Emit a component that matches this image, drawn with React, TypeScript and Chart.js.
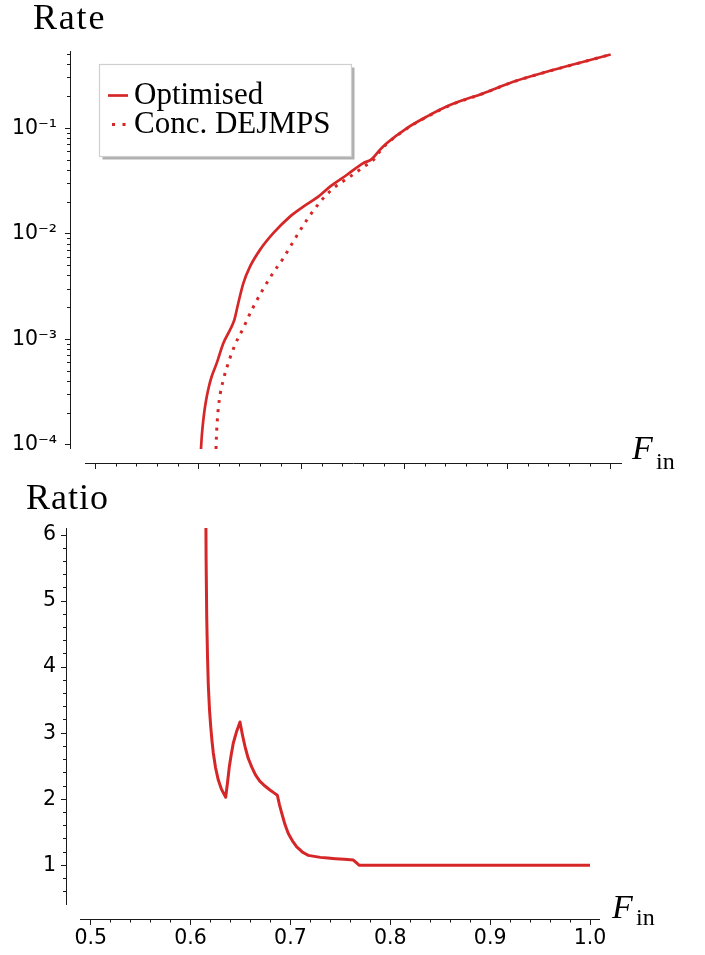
import React, { useEffect, useRef } from 'react';
import { Chart, registerables } from 'chart.js';

Chart.register(...registerables);

// ---------- data ----------
const fOptimised = [0.6022, 0.6031, 0.6045, 0.606, 0.6078, 0.61, 0.6126, 0.6175, 0.6239, 0.6304, 0.6346, 0.6384, 0.6433, 0.6498, 0.6595, 0.6724, 0.6886, 0.7016, 0.7161, 0.7275, 0.7437, 0.7598, 0.768, 0.775, 0.7825, 0.8019, 0.8214, 0.844, 0.876, 0.9054, 0.9379, 0.9701, 1.0];
const rateOptimised = [9.16e-5, 1.25e-4, 1.73e-4, 2.25e-4, 2.87e-4, 3.6e-4, 4.45e-4, 5.96e-4, 9.2e-4, 1.23e-3, 1.53e-3, 2.2e-3, 3.4e-3, 4.89e-3, 7.05e-3, 1.014e-2, 1.456e-2, 1.81e-2, 2.25e-2, 2.8e-2, 3.61e-2, 4.67e-2, 5.1e-2, 6.1e-2, 7.2e-2, 0.1, 0.129, 0.166, 0.214, 0.276, 0.343, 0.418, 0.5];

const fConcDejmps = [0.6168, 0.6172, 0.6181, 0.62, 0.6239, 0.6287, 0.6352, 0.6433, 0.6515, 0.6612, 0.6709, 0.6821, 0.6918, 0.7049, 0.7178, 0.7307, 0.7469, 0.7615, 0.7695, 0.775, 0.7825, 0.8019, 0.8214, 0.844, 0.876, 0.9054, 0.9379, 0.9701, 1.0];
const rateConcDejmps = [9.16e-5, 1.2e-4, 1.73e-4, 2.67e-4, 4.14e-4, 5.96e-4, 8.87e-4, 1.28e-3, 1.9e-3, 2.84e-3, 4.08e-3, 5.87e-3, 8.44e-3, 1.35e-2, 2.0e-2, 2.7e-2, 3.48e-2, 4.4e-2, 5.01e-2, 5.9e-2, 7.1e-2, 0.099, 0.128, 0.165, 0.213, 0.275, 0.342, 0.417, 0.5];

const fRatio = [0.6148, 0.6152, 0.6156, 0.6162, 0.617, 0.6178, 0.619, 0.6202, 0.6215, 0.6228, 0.625, 0.6278, 0.631, 0.6352, 0.637, 0.6388, 0.6408, 0.6428, 0.646, 0.6495, 0.652, 0.6545, 0.6575, 0.6612, 0.665, 0.6695, 0.6745, 0.6795, 0.6869, 0.689, 0.6913, 0.6945, 0.6979, 0.702, 0.7063, 0.712, 0.7179, 0.73, 0.745, 0.763, 0.769, 1.0];
const ratioValues = [7.8, 6.6, 5.6, 4.75, 4.15, 3.72, 3.35, 3.1, 2.88, 2.7, 2.48, 2.29, 2.15, 2.03, 2.25, 2.49, 2.68, 2.85, 3.02, 3.17, 2.97, 2.8, 2.63, 2.49, 2.37, 2.27, 2.2, 2.14, 2.06, 1.92, 1.79, 1.62, 1.48, 1.37, 1.28, 1.2, 1.15, 1.12, 1.1, 1.08, 1.0, 1.0];

// ---------- ticks ----------
const xMajorTicks = [0.5, 0.6, 0.7, 0.8, 0.9, 1.0];
const xTickLabels = ['0.5', '0.6', '0.7', '0.8', '0.9', '1.0'];
const rateMajorTicks = [1e-4, 1e-3, 1e-2, 1e-1];
const rateTickLabels = ['10\u207B\u2074', '10\u207B\u00B3', '10\u207B\u00B2', '10\u207B\u00B9'];
const ratioMajorTicks = [1, 2, 3, 4, 5, 6];
const ratioTickLabels = ['1', '2', '3', '4', '5', '6'];

// axis ranges
const TOP_X_MIN = 0.4896, TOP_X_MAX = 1.011;
const RATE_MIN = 9.16e-5, RATE_MAX = 0.5395;
const BOT_X_MIN = 0.4893, BOT_X_MAX = 1.01;
const RATIO_MIN = 0.399, RATIO_MAX = 6.106;

const RED = '#d62728';
const INK = '#1a1a1a';

function xTickValues() {
  const out: number[] = [];
  for (let i = 0; i < xMajorTicks.length; i++) {
    out.push(xMajorTicks[i]);
    if (i < xMajorTicks.length - 1) {
      const step = (xMajorTicks[i + 1] - xMajorTicks[i]) / 5;
      for (let k = 1; k < 5; k++) out.push(+(xMajorTicks[i] + k * step).toFixed(4));
    }
  }
  return out;
}
function rateTickValues() {
  const out: number[] = [];
  rateMajorTicks.forEach((d) => {
    out.push(d);
    for (let m = 2; m <= 9; m++) if (d * m <= RATE_MAX) out.push(d * m);
  });
  return out;
}
function ratioTickValues() {
  const out: number[] = [0.6, 0.8];
  for (let i = 0; i < ratioMajorTicks.length; i++) {
    out.push(ratioMajorTicks[i]);
    if (i < ratioMajorTicks.length - 1) {
      for (let k = 1; k < 5; k++) out.push(+(ratioMajorTicks[i] + k * 0.2).toFixed(3));
    }
  }
  return out;
}

const findMajor = (v: number, majors: number[], rel = false) =>
  majors.findIndex((m) => (rel ? Math.abs(v / m - 1) < 1e-6 : Math.abs(v - m) < 1e-6));

const zeroPad = (s: any) => {
  s.paddingLeft = 0; s.paddingRight = 0; s.paddingTop = 0; s.paddingBottom = 0;
};

// draws the offset axis lines (spines) next to the library's scales
const spinesPlugin = {
  id: 'spines',
  afterDraw(chart: any, _args: any, opts: any) {
    const { ctx, chartArea: a } = chart;
    ctx.save();
    ctx.strokeStyle = INK;
    ctx.lineWidth = 1;
    const yx = Math.round(a.left - opts.yGap) + 0.5;
    ctx.beginPath();
    ctx.moveTo(yx, a.top);
    ctx.lineTo(yx, a.bottom);
    ctx.stroke();
    const xy = Math.round(a.bottom + opts.xGap) + 0.5;
    ctx.beginPath();
    ctx.moveTo(a.left, xy);
    ctx.lineTo(a.right, xy);
    ctx.stroke();
    ctx.restore();
  },
};

const tickFont = { family: 'DejaVu Sans', size: 20.5 };

export default function App() {
  const topRef = useRef<HTMLCanvasElement>(null);
  const botRef = useRef<HTMLCanvasElement>(null);

  useEffect(() => {
    const xTicks = xTickValues();
    const top = new Chart(topRef.current as HTMLCanvasElement, {
      type: 'line',
      data: {
        datasets: [
          {
            label: 'Optimised',
            data: fOptimised.map((x, i) => ({ x, y: rateOptimised[i] })),
            borderColor: RED,
            borderWidth: 2.7,
            pointRadius: 0,
            cubicInterpolationMode: 'monotone',
            fill: false,
          },
          {
            label: 'Conc. DEJMPS',
            data: fConcDejmps.map((x, i) => ({ x, y: rateConcDejmps[i] })),
            borderColor: RED,
            borderWidth: 3,
            borderDash: [3, 6.2],
            borderCapStyle: 'butt',
            pointRadius: 0,
            cubicInterpolationMode: 'monotone',
            fill: false,
          },
        ],
      },
      options: {
        animation: false,
        responsive: false,
        events: [],
        layout: { padding: { top: 51, right: 83, left: 0, bottom: 0 } },
        plugins: {
          legend: { display: false },
          tooltip: { enabled: false },
          spines: { xGap: 14, yGap: 15 },
        } as any,
        scales: {
          x: {
            type: 'linear',
            position: 'bottom',
            min: TOP_X_MIN,
            max: TOP_X_MAX,
            afterBuildTicks: (s: any) => { s.ticks = xTicks.map((value) => ({ value })); },
            afterFit: (s: any) => { s.height = 31; zeroPad(s); },
            border: { display: false },
            grid: {
              drawOnChartArea: false,
              drawTicks: true,
              tickLength: 20,
              tickColor: INK,
              tickWidth: 1,
              tickBorderDash: (c: any) => (findMajor(c.tick.value, xMajorTicks) >= 0 ? [0, 14, 6, 100] : [0, 14, 3.5, 100]),
            },
            ticks: { display: false, autoSkip: false },
          },
          y: {
            type: 'logarithmic',
            position: 'left',
            min: RATE_MIN,
            max: RATE_MAX,
            afterBuildTicks: (s: any) => { s.ticks = rateTickValues().map((value) => ({ value })); },
            afterFit: (s: any) => { s.width = 85; zeroPad(s); },
            border: { display: false },
            grid: {
              drawOnChartArea: false,
              drawTicks: true,
              tickLength: 20,
              tickColor: INK,
              tickWidth: 1,
              tickBorderDash: (c: any) => (findMajor(c.tick.value, rateMajorTicks, true) >= 0 ? [5, 100] : [0, 2, 3, 100]),
            },
            ticks: {
              autoSkip: false,
              padding: 8,
              color: '#000',
              font: tickFont,
              callback: (v: any) => {
                const i = findMajor(Number(v), rateMajorTicks, true);
                return i >= 0 ? rateTickLabels[i] : '';
              },
            },
          },
        },
      },
      plugins: [spinesPlugin],
    } as any);

    const bottom = new Chart(botRef.current as HTMLCanvasElement, {
      type: 'line',
      data: {
        datasets: [
          {
            label: 'Ratio',
            data: fRatio.map((x, i) => ({ x, y: ratioValues[i] })),
            borderColor: RED,
            borderWidth: 3,
            borderJoinStyle: 'round',
            pointRadius: 0,
            tension: 0.0001,
            clip: 0,
            fill: false,
          },
        ],
      },
      options: {
        animation: false,
        responsive: false,
        events: [],
        layout: { padding: { top: 48, right: 105, left: 0, bottom: 0 } },
        plugins: {
          legend: { display: false },
          tooltip: { enabled: false },
          spines: { xGap: 14, yGap: 14 },
        } as any,
        scales: {
          x: {
            type: 'linear',
            position: 'bottom',
            min: BOT_X_MIN,
            max: BOT_X_MAX,
            afterBuildTicks: (s: any) => { s.ticks = xTicks.map((value) => ({ value })); },
            afterFit: (s: any) => { s.height = 50; zeroPad(s); },
            border: { display: false },
            grid: {
              drawOnChartArea: false,
              drawTicks: true,
              tickLength: 20,
              tickColor: INK,
              tickWidth: 1,
              tickBorderDash: (c: any) => (findMajor(c.tick.value, xMajorTicks) >= 0 ? [0, 14, 6, 100] : [0, 14, 3.5, 100]),
            },
            ticks: {
              autoSkip: false,
              maxRotation: 0,
              padding: 1,
              color: '#000',
              font: tickFont,
              callback: (v: any) => {
                const i = findMajor(Number(v), xMajorTicks);
                return i >= 0 ? xTickLabels[i] : '';
              },
            },
          },
          y: {
            type: 'linear',
            position: 'left',
            min: RATIO_MIN,
            max: RATIO_MAX,
            afterBuildTicks: (s: any) => { s.ticks = ratioTickValues().map((value) => ({ value })); },
            afterFit: (s: any) => { s.width = 80; zeroPad(s); },
            border: { display: false },
            grid: {
              drawOnChartArea: false,
              drawTicks: true,
              tickLength: 19,
              tickColor: INK,
              tickWidth: 1,
              tickBorderDash: (c: any) => (findMajor(c.tick.value, ratioMajorTicks) >= 0 ? [5, 100] : [0, 2, 3, 100]),
            },
            ticks: {
              autoSkip: false,
              padding: 5,
              color: '#000',
              font: tickFont,
              callback: (v: any) => {
                const i = findMajor(Number(v), ratioMajorTicks);
                return i >= 0 ? ratioTickLabels[i] : '';
              },
            },
          },
        },
      },
      plugins: [spinesPlugin],
    } as any);

    return () => {
      top.destroy();
      bottom.destroy();
    };
  }, []);

  const serif = 'Liberation Serif, Times New Roman, serif';

  return (
    <div style={{ position: 'absolute', left: 0, top: 0, width: 705, height: 955, background: '#fff', overflow: 'hidden' }}>
      <canvas ref={topRef} width={705} height={480} style={{ position: 'absolute', left: 0, top: 0, width: 705, height: 480 }} />
      <canvas ref={botRef} width={705} height={475} style={{ position: 'absolute', left: 0, top: 480, width: 705, height: 475 }} />
      <svg width={705} height={955} style={{ position: 'absolute', left: 0, top: 0, pointerEvents: 'none' }}>
        <g fontFamily={serif} fill="#000">
          <text x={33} y={29} fontSize={36} letterSpacing={1.8}>Rate</text>
          <text x={26} y={509} fontSize={36} letterSpacing={1}>Ratio</text>

          <text x={632} y={459} fontSize={34} fontStyle="italic">F</text>
          <text x={656} y={469} fontSize={24}>in</text>
          <text x={612} y={918} fontSize={34} fontStyle="italic">F</text>
          <text x={636} y={925} fontSize={24}>in</text>

          <rect x={102.5} y={67.5} width={252} height={92} fill="#b0b0b0" />
          <rect x={99.5} y={64.5} width={252} height={92} fill="#fff" stroke="#cfcfcf" strokeWidth={1.2} />
          <line x1={108} x2={128} y1={95.5} y2={95.5} stroke={RED} strokeWidth={2.7} />
          <line x1={112} x2={128} y1={124.5} y2={124.5} stroke={RED} strokeWidth={3} strokeDasharray="3 7.5" />
          <text x={134} y={104} fontSize={31}>Optimised</text>
          <text x={134} y={133} fontSize={31}>Conc. DEJMPS</text>
        </g>
      </svg>
    </div>
  );
}
